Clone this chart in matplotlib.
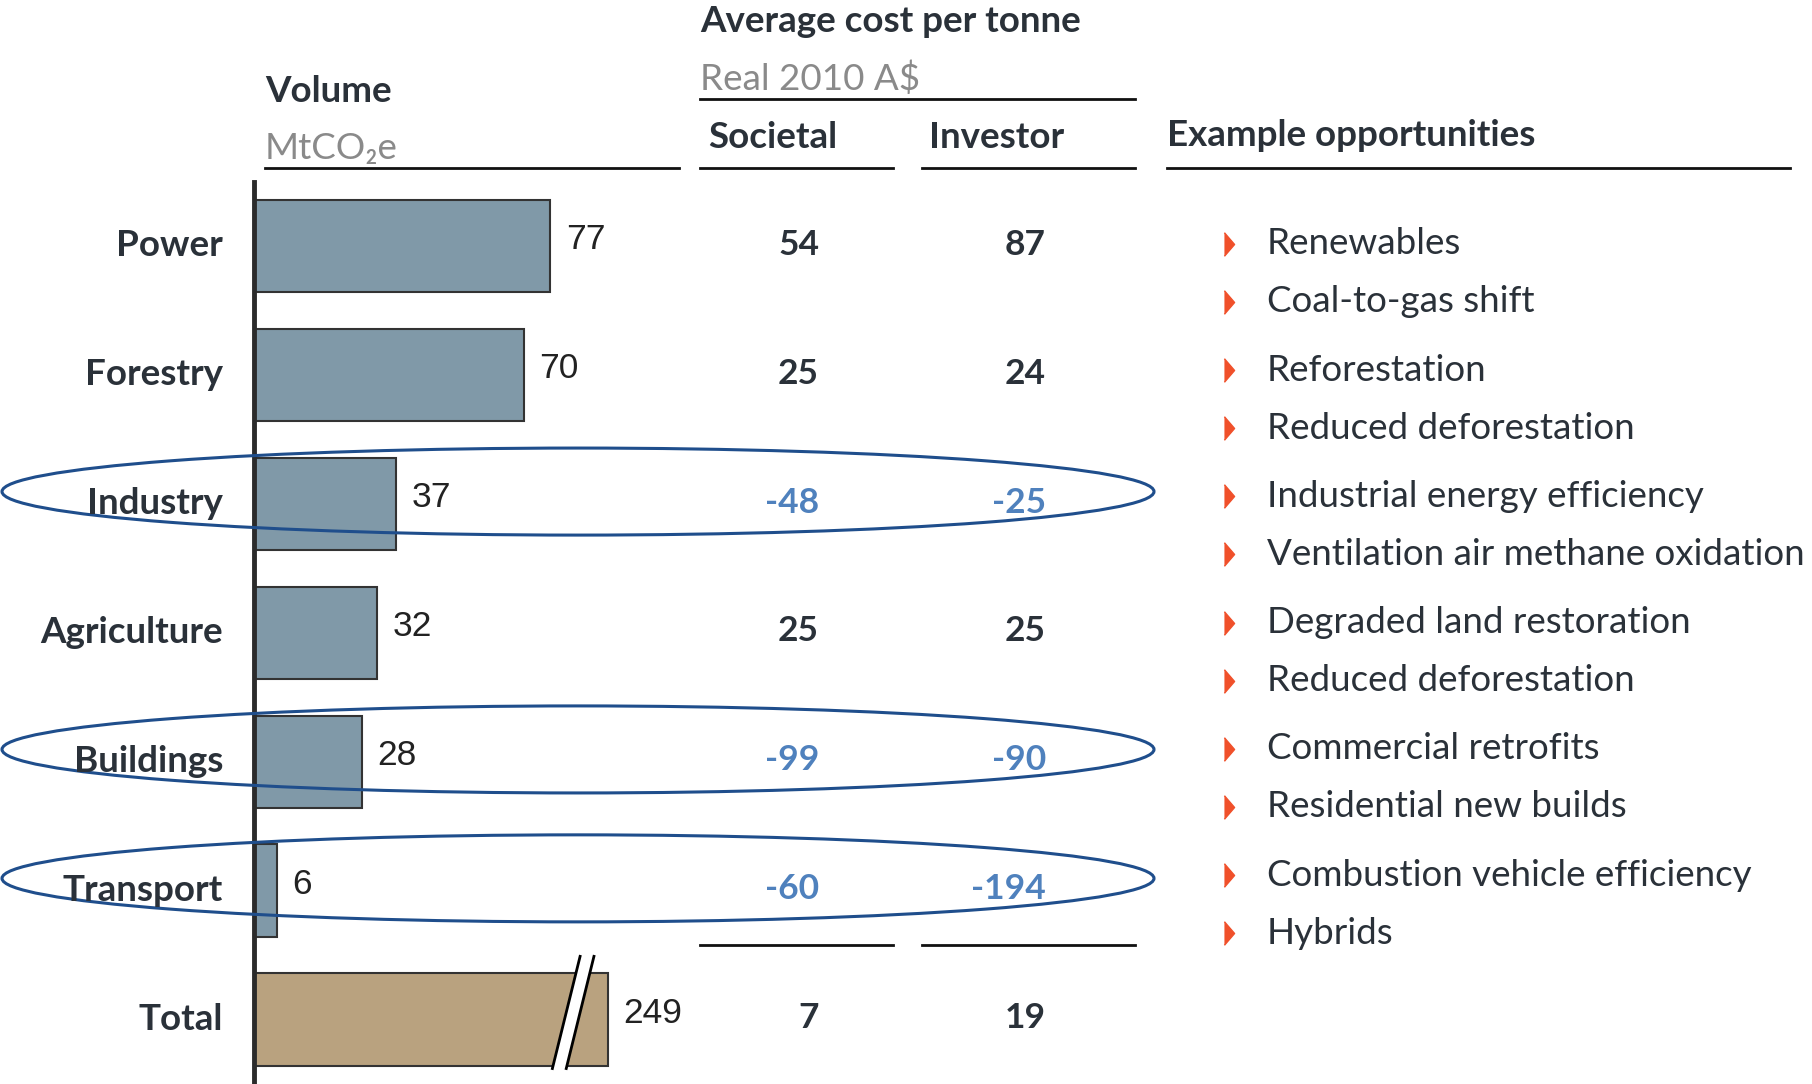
"""Abatement by sector: volume, average cost per tonne and example opportunities."""

import matplotlib.pyplot as plt
import matplotlib.transforms as mtransforms
from matplotlib.patches import Ellipse, Polygon

plt.rcParams["font.family"] = ["Lato", "DejaVu Sans"]

# Data
sectors = ["Power", "Forestry", "Industry", "Agriculture", "Buildings", "Transport", "Total"]
volume = [77, 70, 37, 32, 28, 6, 249]
societal = [54, 25, -48, 25, -99, -60, 7]
investor = [87, 24, -25, 25, -90, -194, 19]
opportunities = [
    ("Renewables", "Coal-to-gas shift"),
    ("Reforestation", "Reduced deforestation"),
    ("Industrial energy efficiency", "Ventilation air methane oxidation"),
    ("Degraded land restoration", "Reduced deforestation"),
    ("Commercial retrofits", "Residential new builds"),
    ("Combustion vehicle efficiency", "Hybrids"),
]
highlighted = ["Industry", "Buildings", "Transport"]

# the total bar is drawn on a broken scale
total_shown = 92

DARK = "#2a3139"
GREY = "#8a8a8a"
BLUE = "#4f81bd"
RING = "#1f4e8c"
BAR = "#8099a8"
TOTAL = "#b9a27f"
ARROW = "#f0502a"
FS = 26.5

W, H = 1812, 1084
fig = plt.figure(figsize=(W / 100, H / 100), dpi=100)

# layout layer in pixel coordinates (drawn on top)
lay = fig.add_axes([0, 0, 1, 1], zorder=2)
lay.set_xlim(0, W)
lay.set_ylim(H, 0)
lay.axis("off")
lay.patch.set_alpha(0)

# bar axes: 3.85 px per MtCO2e, 129 px per row
ax_left, ax_top, ax_w = 254, 181.5, 446
ax = fig.add_axes([ax_left / W, 0, ax_w / W, (H - ax_top) / H], zorder=1)
ax.set_xlim(0, ax_w / 3.85)
ax.set_ylim(len(sectors) - 0.5, -0.5)
for s in ["top", "right", "bottom"]:
    ax.spines[s].set_visible(False)
ax.spines["left"].set_linewidth(3.5)
ax.spines["left"].set_color("#2b2b2b")
ax.set_xticks([])
ax.set_yticks([])

rows = list(range(len(sectors)))
shown = volume[:-1] + [total_shown]
colors = [BAR] * (len(sectors) - 1) + [TOTAL]
ax.barh(rows, shown, height=0.716, color=colors, edgecolor="#333333", linewidth=1.5)

num_font = ["Liberation Sans Narrow", "Liberation Sans"]
for r, v, s in zip(rows, volume, shown):
    ax.text(s + 4.0, r - 0.05, str(v), fontsize=25.5, color="#222222",
            ha="left", va="center", family=num_font)

# break mark on the total bar
t = len(sectors) - 1
gap = Polygon([(total_shown - 14.5, t + 0.38), (total_shown - 10.9, t + 0.38),
               (total_shown - 3.7, t - 0.49), (total_shown - 7.3, t - 0.49)],
              closed=True, facecolor="white", edgecolor="none", zorder=3)
ax.add_patch(gap)
ax.plot([total_shown - 14.5, total_shown - 7.3], [t + 0.38, t - 0.49], color="black", lw=2, zorder=4, clip_on=False)
ax.plot([total_shown - 10.9, total_shown - 3.7], [t + 0.38, t - 0.49], color="black", lw=2, zorder=4, clip_on=False)

blend = mtransforms.blended_transform_factory(lay.transData, ax.transData)

# row labels
for r, name in zip(rows, sectors):
    lay.text(223, r, name, transform=blend, fontsize=FS, fontweight="bold",
             color=DARK, ha="right", va="center")

# cost columns
for r, sv, iv in zip(rows, societal, investor):
    for x, v in [(819, sv), (1046, iv)]:
        lay.text(x, r - 0.01, str(v), transform=blend, fontsize=25.5, fontweight="bold",
                 color=BLUE if v < 0 else DARK, ha="right", va="center")

# example opportunities (bullet list runs slightly tighter than the rows)
tri = [(-0.43, -1), (0.43, 0), (-0.43, 1)]
for i, pair in enumerate(opportunities):
    for j, item in enumerate(pair):
        y = 244 + 126.2 * i + 58 * j
        lay.plot([1229], [y], marker=tri, ms=17, color=ARROW, ls="none")
        lay.text(1267, y, item, fontsize=FS, color=DARK, ha="left", va="center")

# rings round the sectors with negative cost
for name in highlighted:
    r = sectors.index(name)
    lay.add_patch(Ellipse((578, r - 0.095), 1152, 0.675, transform=blend,
                          fill=False, edgecolor=RING, lw=2.2))

# headers
lay.text(265, 92, "Volume", fontsize=FS, fontweight="bold", color=DARK, va="center")
lay.text(265, 149, "MtCO₂e", fontsize=FS, color=GREY, va="center")
lay.text(700, 22, "Average cost per tonne", fontsize=FS, fontweight="bold", color=DARK, va="center")
lay.text(700, 79, "Real 2010 A$", fontsize=FS, color=GREY, va="center")
lay.text(708, 137, "Societal", fontsize=FS, fontweight="bold", color=DARK, va="center")
lay.text(929, 137, "Investor", fontsize=FS, fontweight="bold", color=DARK, va="center")
lay.text(1167, 136, "Example opportunities", fontsize=FS, fontweight="bold", color=DARK, va="center")

for x0, x1, y in [(265, 679, 168), (700, 1135, 99), (700, 893, 168), (922, 1135, 168),
                  (1167, 1790, 168), (700, 893, 945), (922, 1135, 945)]:
    lay.plot([x0, x1], [y, y], color="#111111", lw=2)

fig.savefig("out.png", dpi=100)
